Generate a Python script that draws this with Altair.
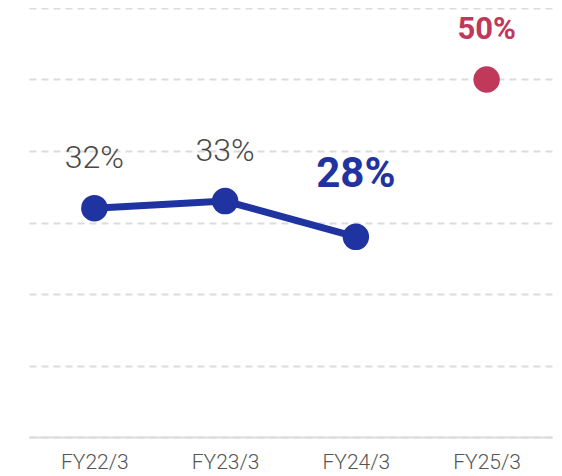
import altair as alt
import pandas as pd

years = ["FY22/3", "FY23/3", "FY24/3", "FY25/3"]
actual = [32, 33, 28, None]
target = [None, None, None, 50]
label_style = ["light", "light", "highlight", "target"]

df = pd.DataFrame({"year": years, "actual": actual, "target": target, "style": label_style})
df["value"] = df["actual"].fillna(df["target"])
df["label"] = df["value"].astype(int).astype(str) + "%"

BLUE = "#1f33a1"
RED = "#c0385a"
GRID = "#dcdcdc"

x = alt.X("year:N", sort=years,
          scale=alt.Scale(type="point", padding=0.5),
          axis=alt.Axis(title=None, labelAngle=0, ticks=False, domain=True,
                        domainColor=GRID, domainWidth=2, labelFont="Roboto",
                        labelFontSize=21, labelFontWeight=300, labelColor="#555555",
                        labelPadding=14, grid=False))
yscale = alt.Scale(domain=[0, 60], nice=False, zero=True)
y_axis = alt.Axis(title=None, labels=False, ticks=False, domain=False,
                  values=[0, 10, 20, 30, 40, 50, 60], grid=True,
                  gridColor=GRID, gridDash=[7, 5], gridWidth=2)

base = alt.Chart(df)

line = base.transform_filter("datum.actual != null").mark_line(
    color=BLUE, strokeWidth=7).encode(
    x=x, y=alt.Y("actual:Q", scale=yscale, axis=y_axis))

pts = base.transform_filter("datum.actual != null").mark_circle(
    color=BLUE, size=700, opacity=1).encode(x=x, y=alt.Y("actual:Q", scale=yscale))

tgt = base.transform_filter("datum.target != null").mark_circle(
    color=RED, size=700, opacity=1).encode(x=x, y=alt.Y("target:Q", scale=yscale))

txt_light = base.transform_filter("datum.style == 'light'").mark_text(
    font="Roboto", fontSize=32, fontWeight=300, color="#484848",
    baseline="alphabetic", dy=-40).encode(
    x=x, y=alt.Y("value:Q", scale=yscale), text="label:N")

txt_high = base.transform_filter("datum.style == 'highlight'").mark_text(
    font="Roboto", fontSize=42, fontWeight="bold", color=BLUE,
    baseline="alphabetic", dy=-50).encode(
    x=x, y=alt.Y("value:Q", scale=yscale), text="label:N")

txt_tgt = base.transform_filter("datum.style == 'target'").mark_text(
    font="Roboto", fontSize=31, fontWeight="bold", color=RED,
    baseline="alphabetic", dy=-41).encode(
    x=x, y=alt.Y("value:Q", scale=yscale), text="label:N")

chart = alt.layer(line, pts, tgt, txt_light, txt_high, txt_tgt).properties(
    width=523, height=429,
    autosize=alt.AutoSizeParams(type="none"),
    padding={"left": 21, "top": 0, "right": 2, "bottom": 40},
).configure_view(stroke=None)

chart.save("out.html", embed_options={"renderer": "svg", "actions": False})
